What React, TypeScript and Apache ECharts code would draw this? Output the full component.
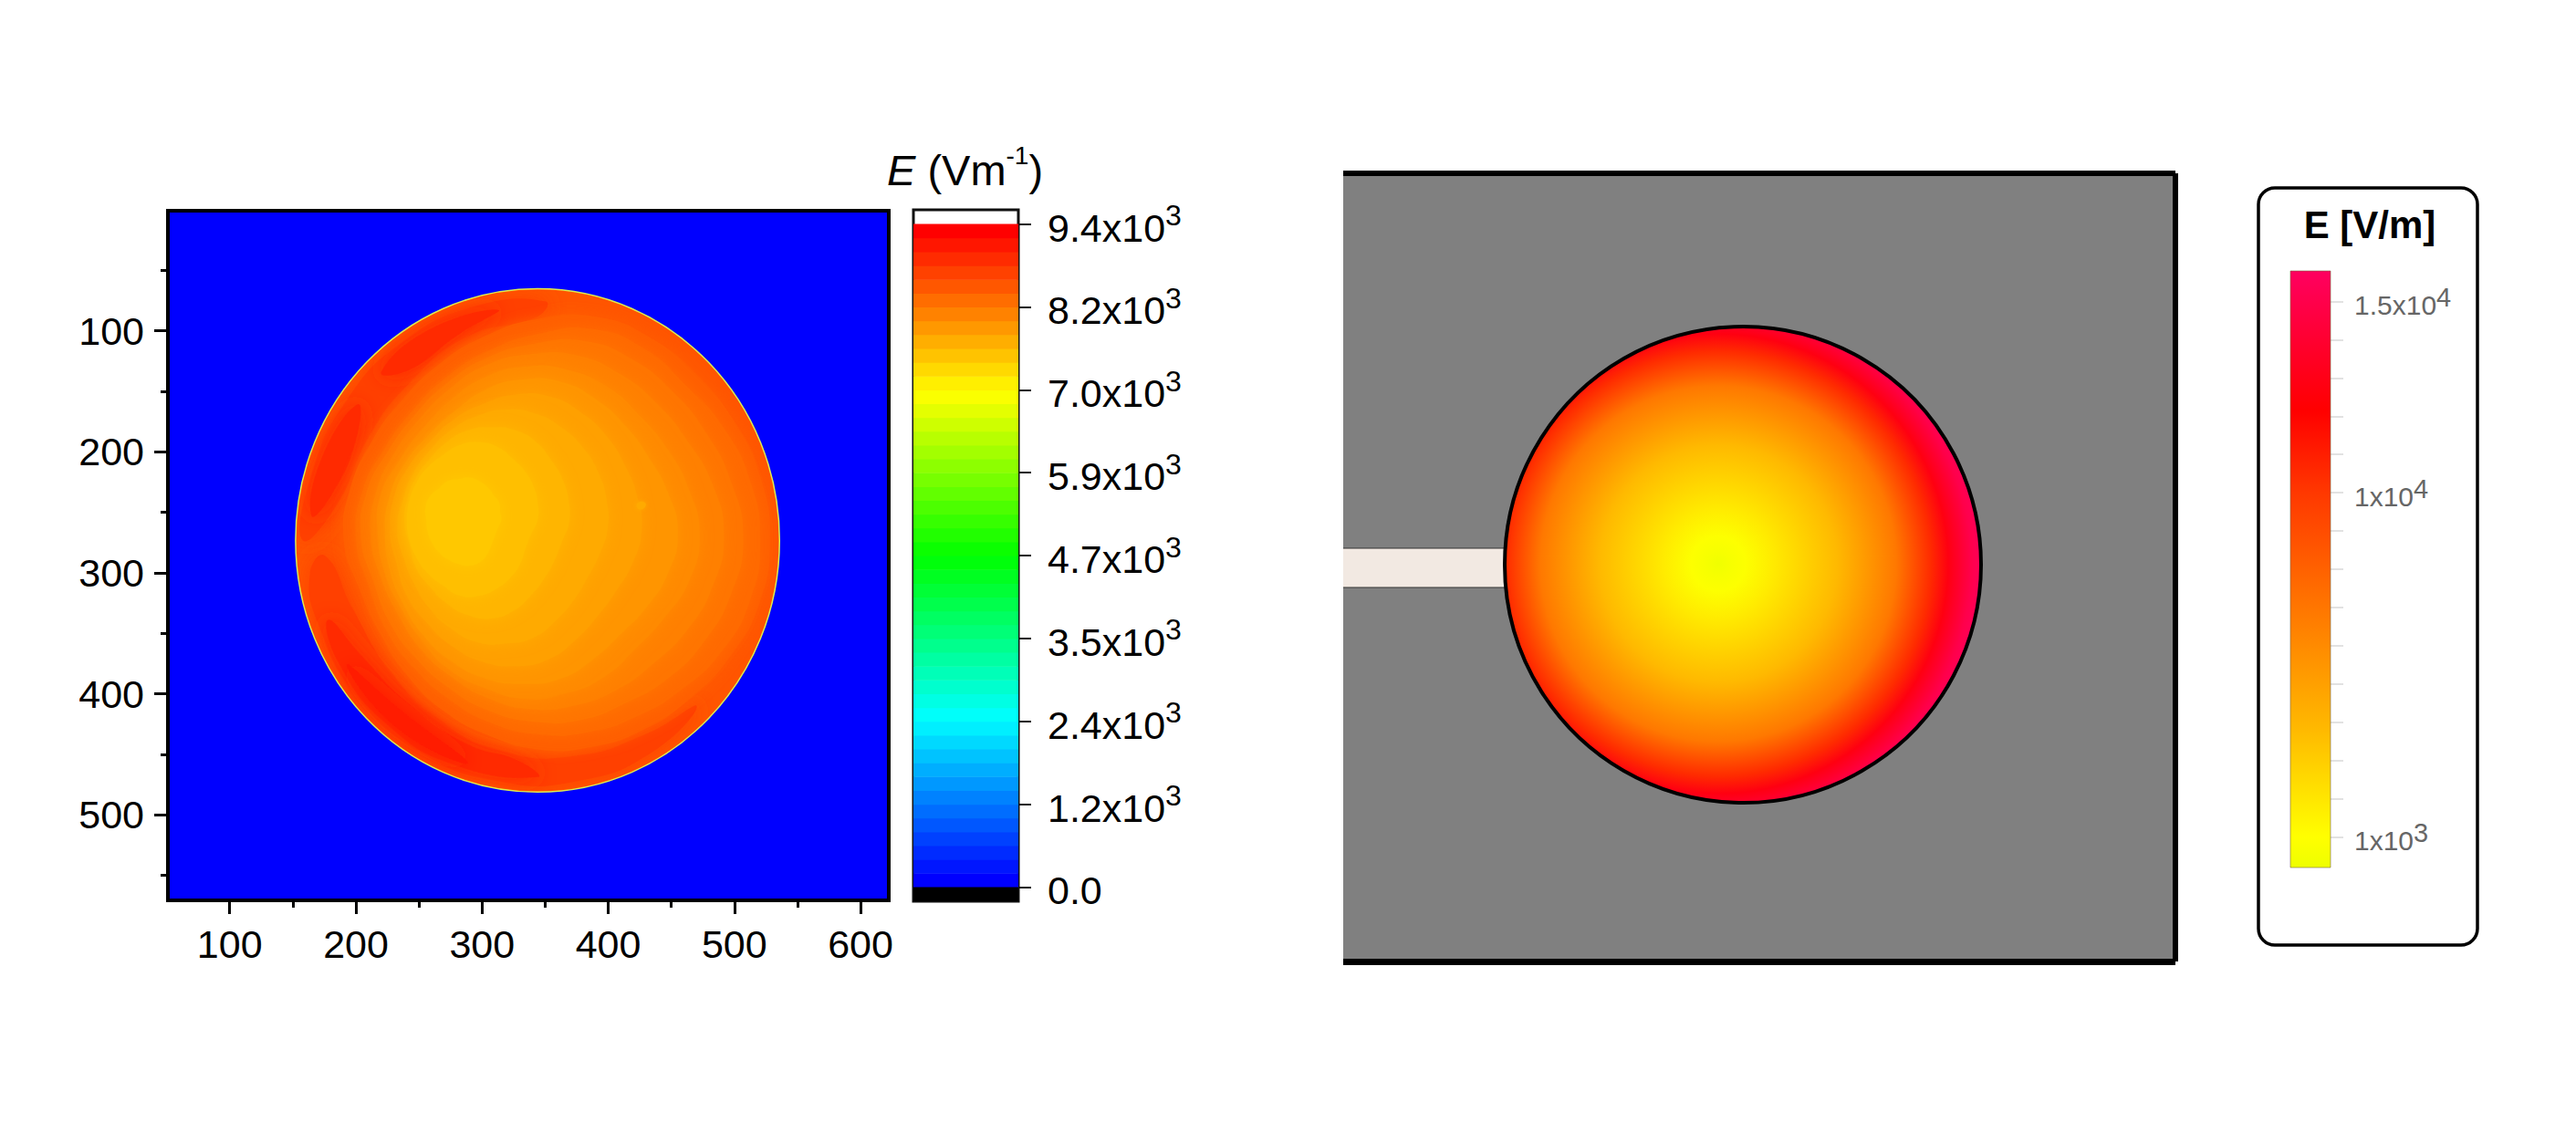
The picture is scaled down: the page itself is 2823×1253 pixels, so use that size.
import React, { useEffect, useRef } from "react";
import * as echarts from "echarts";

const FONT = "Liberation Sans";

// ---------- left panel: axes ----------
const X_MAJOR = [100, 200, 300, 400, 500, 600];
const X_MINOR = [150, 250, 350, 450, 550];
const Y_MAJOR = [100, 200, 300, 400, 500];
const Y_MINOR = [50, 150, 250, 350, 450, 550];

// measured disk in data units
const DISK = { cx: 344, cy: 273.2, rx: 191.8, ry: 208 };

// colour scale of the left bar
const BAR_VALUES = [0, 2350, 4700, 7050, 9400];
const BAR_COLORS = ["#0000ff", "#00ffff", "#00ff00", "#ffff00", "#ff0000"];
const BAR_TICKS = [0, 1175, 2350, 3525, 4700, 5875, 7050, 8225, 9400];
const BAR_MANTISSA = ["0.0", "1.2", "2.4", "3.5", "4.7", "5.9", "7.0", "8.2", "9.4"];
const BAR_LEVELS = 48;

// field of the left disk: iso-value outlines
// radius is a fraction of the disk radius, angle runs clockwise from the right,
// each outline around its own centre (fractions of the disk radius too)
const ANGLES = [0, 15, 30, 45, 60, 75, 90, 105, 120, 135, 150, 165, 180, 195, 210, 225, 240, 255, 270, 285, 300, 315, 330, 345];
const RIM_VALUE = 8620;
const R_8520 = [0.96, 0.95, 0.92, 0.89, 0.87, 0.85, 0.83, 0.8, 0.78, 0.76, 0.75, 0.76, 0.8, 0.8, 0.79, 0.79, 0.81, 0.84, 0.88, 0.92, 0.93, 0.93, 0.94, 0.955];
const R_8420 = [0.92, 0.91, 0.88, 0.84, 0.81, 0.79, 0.77, 0.75, 0.73, 0.72, 0.72, 0.72, 0.75, 0.75, 0.73, 0.73, 0.75, 0.78, 0.82, 0.87, 0.88, 0.87, 0.89, 0.91];
const R_8320 = [0.87, 0.85, 0.82, 0.79, 0.76, 0.75, 0.73, 0.71, 0.69, 0.68, 0.68, 0.68, 0.71, 0.71, 0.69, 0.69, 0.71, 0.74, 0.77, 0.81, 0.82, 0.82, 0.83, 0.85];
const R_8225 = [0.8, 0.78, 0.75, 0.72, 0.71, 0.7, 0.69, 0.67, 0.65, 0.64, 0.63, 0.64, 0.66, 0.66, 0.65, 0.65, 0.67, 0.7, 0.72, 0.74, 0.74, 0.74, 0.75, 0.78];
const R_8130 = [0.72, 0.7, 0.66, 0.64, 0.65, 0.65, 0.65, 0.63, 0.62, 0.6, 0.59, 0.6, 0.61, 0.62, 0.6, 0.6, 0.62, 0.65, 0.67, 0.68, 0.68, 0.67, 0.68, 0.7];
const R_8030 = [0.64, 0.62, 0.59, 0.57, 0.58, 0.6, 0.6, 0.6, 0.59, 0.58, 0.57, 0.57, 0.57, 0.57, 0.56, 0.55, 0.56, 0.59, 0.61, 0.62, 0.61, 0.6, 0.6, 0.62];
const R_7930 = [0.52, 0.5, 0.48, 0.48, 0.5, 0.53, 0.54, 0.54, 0.53, 0.52, 0.52, 0.51, 0.52, 0.52, 0.51, 0.5, 0.51, 0.52, 0.54, 0.55, 0.54, 0.53, 0.52, 0.52];
const R_7830 = [0.42, 0.4, 0.39, 0.4, 0.42, 0.45, 0.46, 0.47, 0.46, 0.45, 0.44, 0.44, 0.45, 0.44, 0.44, 0.44, 0.45, 0.46, 0.47, 0.47, 0.46, 0.45, 0.44, 0.43];
const R_7730 = [0.32, 0.3, 0.3, 0.31, 0.33, 0.36, 0.38, 0.38, 0.37, 0.36, 0.36, 0.35, 0.36, 0.36, 0.36, 0.36, 0.37, 0.38, 0.38, 0.38, 0.37, 0.35, 0.34, 0.33];
const R_7640 = [0.24, 0.22, 0.22, 0.24, 0.26, 0.28, 0.3, 0.31, 0.3, 0.3, 0.3, 0.3, 0.3, 0.3, 0.3, 0.3, 0.3, 0.31, 0.31, 0.3, 0.28, 0.27, 0.26, 0.25];
const R_7560 = [0.13, 0.12, 0.12, 0.13, 0.15, 0.17, 0.18, 0.18, 0.18, 0.18, 0.18, 0.18, 0.18, 0.19, 0.19, 0.18, 0.18, 0.17, 0.17, 0.16, 0.15, 0.14, 0.14, 0.13];
// hot crescents: [angle, radius] outlines around the disk centre
const HOT_LOWER_8810 = [[45, 0.93], [60, 0.965], [80, 0.97], [100, 0.97], [120, 0.97], [140, 0.97], [160, 0.965], [172, 0.95], [176, 0.88], [160, 0.81], [140, 0.8], [120, 0.82], [100, 0.85], [80, 0.87], [60, 0.89]];
const HOT_UPPER_8810 = [[180, 0.97], [195, 0.97], [215, 0.965], [235, 0.965], [255, 0.965], [272, 0.95], [270, 0.89], [250, 0.86], [230, 0.82], [210, 0.81], [190, 0.84]];
const HOT_LOWER_9000 = [[90, 0.94], [110, 0.955], [130, 0.96], [150, 0.955], [160, 0.92], [148, 0.86], [130, 0.84], [110, 0.86], [95, 0.88]];
const HOT_UPPER_9000A = [[186, 0.94], [200, 0.95], [216, 0.92], [208, 0.85], [192, 0.87]];
const HOT_UPPER_9000B = [[226, 0.93], [242, 0.95], [260, 0.93], [248, 0.88], [232, 0.86]];
const HOT_LOWER_9150 = [[108, 0.93], [128, 0.945], [148, 0.93], [130, 0.88]];
const SPECK_7830 = [[340, 0.45], [342, 0.47], [344, 0.45], [342, 0.43]];

const toPairs = (radii: number[]) => radii.map((r, i) => [ANGLES[i], r]);
const OUTLINES: { value: number; pts: number[][]; c?: number[]; blur: number }[] = [
  { value: 8810, pts: HOT_LOWER_8810, blur: 22 },
  { value: 8810, pts: HOT_UPPER_8810, blur: 22 },
  { value: 9000, pts: HOT_LOWER_9000, blur: 22 },
  { value: 9000, pts: HOT_UPPER_9000A, blur: 22 },
  { value: 9000, pts: HOT_UPPER_9000B, blur: 22 },
  { value: 9150, pts: HOT_LOWER_9150, blur: 22 },
  { value: 8520, pts: toPairs(R_8520), blur: 14 },
  { value: 8420, pts: toPairs(R_8420), blur: 14 },
  { value: 8320, pts: toPairs(R_8320), c: [-0.02, -0.01], blur: 14 },
  { value: 8225, pts: toPairs(R_8225), c: [-0.03, -0.02], blur: 14 },
  { value: 8130, pts: toPairs(R_8130), c: [-0.05, -0.02], blur: 14 },
  { value: 8030, pts: toPairs(R_8030), c: [-0.06, -0.03], blur: 14 },
  { value: 7930, pts: toPairs(R_7930), c: [-0.09, -0.04], blur: 14 },
  { value: 7830, pts: toPairs(R_7830), c: [-0.13, -0.05], blur: 14 },
  { value: 7730, pts: toPairs(R_7730), c: [-0.19, -0.07], blur: 14 },
  { value: 7640, pts: toPairs(R_7640), c: [-0.24, -0.08], blur: 14 },
  { value: 7560, pts: toPairs(R_7560), c: [-0.28, -0.08], blur: 14 },
  { value: 7830, pts: SPECK_7830, blur: 4 },
];

// ---------- right panel ----------
const RIGHT_SCALE_VALUES = [196, 1000, 3850, 6500, 10000, 12150, 15800];
const RIGHT_SCALE_COLORS = ["#eeff00", "#ffff00", "#ffb800", "#ff8000", "#ff3800", "#ff0000", "#ff0060"];
const RIGHT_TICKS = [1000, 2000, 3000, 4000, 5000, 6000, 7000, 8000, 9000, 10000, 11000, 12000, 13000, 14000, 15000];
const RIGHT_LABELS: Record<number, string[]> = { 1000: ["1x10", "3"], 10000: ["1x10", "4"], 15000: ["1.5x10", "4"] };
// field along the radius from the hot-spot centre
const PROFILE_R = [0, 14, 30, 60, 130, 195, 233, 252, 277, 290];
const PROFILE_E = [300, 600, 900, 1800, 3800, 6900, 10500, 12800, 15000, 15600];
const PROFILE_RMAX = 290;
const SPOT = { x: 411, y: 428 };
const DISK_R = { cx: 438, cy: 429, r: 261 };
const STRIP = { x0: 0, x1: 177, y0: 411, y1: 454 };

function hex(c: string) {
  return [1, 3, 5].map((i) => parseInt(c.slice(i, i + 2), 16));
}
function scaleColor(v: number, vals: number[], cols: string[]) {
  if (v <= vals[0]) return cols[0];
  for (let i = 1; i < vals.length; i++) {
    if (v <= vals[i]) {
      const t = (v - vals[i - 1]) / (vals[i] - vals[i - 1]);
      const a = hex(cols[i - 1]);
      const b = hex(cols[i]);
      return `rgb(${a.map((x, k) => Math.round(x + (b[k] - x) * t)).join(",")})`;
    }
  }
  return cols[cols.length - 1];
}
const leftColor = (v: number) => scaleColor(v, BAR_VALUES, BAR_COLORS);
const rightColor = (v: number) => scaleColor(v, RIGHT_SCALE_VALUES, RIGHT_SCALE_COLORS);

const LABEL_SIZE = 43;
const supRich = (main: number, sup: number, color: string) => ({
  a: { fontFamily: FONT, fontSize: main, color, lineHeight: main + 8, verticalAlign: "bottom" },
  b: { fontFamily: FONT, fontSize: sup, color, lineHeight: main + 8, verticalAlign: "top" },
});

function buildOption(): any {
  const bareAxis = (extra: any) => ({
    axisLine: { show: false, onZero: false },
    axisTick: { show: false },
    axisLabel: { show: false },
    splitLine: { show: false },
    ...extra,
  });
  const majorTick = (vals: number[], len: number, color = "#000", width = 3) => ({
    show: true,
    customValues: vals,
    length: len,
    lineStyle: { color, width },
  });
  const plainLabel = (vals: number[]) => ({
    show: true,
    customValues: vals,
    margin: 26,
    fontFamily: FONT,
    fontSize: LABEL_SIZE,
    color: "#000",
  });
  const frame = (width: number) => ({ show: true, onZero: false, lineStyle: { color: "#000", width, cap: "butt" } });
  const levelStep = 9400 / BAR_LEVELS;
  const levelData = Array.from({ length: BAR_LEVELS }, (_, i) => [0, i * levelStep, i]);

  return {
    animation: false,
    backgroundColor: "#fff",
    grid: [
      { left: 184, top: 231, width: 790, height: 756, show: true, backgroundColor: "#0000ff", borderColor: "#000", borderWidth: 4 },
      { left: 1001, top: 230, width: 115, height: 758, show: true, backgroundColor: "#fff", borderColor: "#111", borderWidth: 3 },
      { left: 1472, top: 190, width: 912, height: 864, show: true, backgroundColor: "#808080", borderWidth: 0 },
      { left: 2510, top: 297, width: 44, height: 654, show: false },
    ],
    xAxis: [
      bareAxis({ type: "value", gridIndex: 0, position: "bottom", min: 51, max: 622.4, axisTick: majorTick(X_MAJOR, 15), axisLabel: plainLabel(X_MAJOR) }),
      bareAxis({ type: "value", gridIndex: 0, position: "bottom", min: 51, max: 622.4, axisTick: majorTick(X_MINOR, 8) }),
      bareAxis({ type: "value", gridIndex: 1, position: "bottom", min: 0, max: 1 }),
      bareAxis({ type: "value", gridIndex: 2, position: "bottom", min: 0, max: 912, axisLine: frame(7) }),
      bareAxis({ type: "value", gridIndex: 2, position: "top", min: 0, max: 912, axisLine: frame(6) }),
      bareAxis({ type: "value", gridIndex: 3, position: "bottom", min: 0, max: 1 }),
    ],
    yAxis: [
      bareAxis({ type: "value", gridIndex: 0, position: "left", inverse: true, min: 0.7, max: 570.7, axisTick: majorTick(Y_MAJOR, 15), axisLabel: plainLabel(Y_MAJOR) }),
      bareAxis({ type: "value", gridIndex: 0, position: "left", inverse: true, min: 0.7, max: 570.7, axisTick: majorTick(Y_MINOR, 8) }),
      bareAxis({
        type: "value", gridIndex: 1, position: "right", min: -202, max: 9602,
        axisTick: majorTick(BAR_TICKS, 14, "#111", 2),
        axisLabel: {
          show: true, customValues: BAR_TICKS, margin: 32,
          formatter: (v: number) => {
            const i = BAR_TICKS.indexOf(v);
            return v === 0 ? `{a|${BAR_MANTISSA[i]}}` : `{a|${BAR_MANTISSA[i]}x10}{b|3}`;
          },
          rich: supRich(LABEL_SIZE, 32, "#000"),
        },
      }),
      bareAxis({ type: "value", gridIndex: 2, position: "right", inverse: true, min: 0, max: 864, axisLine: frame(6) }),
      bareAxis({
        type: "value", gridIndex: 3, position: "right", min: 196, max: 15800,
        axisTick: majorTick(RIGHT_TICKS, 14, "#d8d8d8", 1.5),
        axisLabel: {
          show: true, customValues: [1000, 10000, 15000], margin: 26,
          formatter: (v: number) => `{a|${RIGHT_LABELS[v][0]}}{b|${RIGHT_LABELS[v][1]}}`,
          rich: supRich(30, 29, "#666"),
        },
      }),
    ],
    series: [
      // left disk base
      {
        type: "custom", xAxisIndex: 0, yAxisIndex: 0, silent: true, clip: false,
        data: [[DISK.cx, DISK.cy, RIM_VALUE]],
        encode: { x: 0, y: 1 },
        renderItem: (_: any, api: any) => {
          const c = api.coord([DISK.cx, DISK.cy]);
          const s = api.size([DISK.rx, DISK.ry]);
          return {
            type: "ellipse",
            shape: { cx: c[0], cy: c[1], rx: s[0], ry: s[1] },
            style: { fill: leftColor(api.value(2)), stroke: "#dcec50", lineWidth: 1.5 },
          };
        },
      },
      // left disk iso-value outlines
      {
        type: "custom", xAxisIndex: 0, yAxisIndex: 0, silent: true, clip: false,
        data: OUTLINES.map((o, i) => [DISK.cx, DISK.cy, o.value, i]),
        encode: { x: 0, y: 1 },
        renderItem: (_: any, api: any) => {
          const o = OUTLINES[api.value(3)];
          const c0 = o.c || [0, 0];
          const points = o.pts.map(([a, r]) => {
            const t = (a * Math.PI) / 180;
            return api.coord([DISK.cx + DISK.rx * (c0[0] + r * Math.cos(t)), DISK.cy + DISK.ry * (c0[1] + r * Math.sin(t))]);
          });
          const col = leftColor(o.value);
          const c = api.coord([DISK.cx, DISK.cy]);
          const s = api.size([DISK.rx, DISK.ry]);
          return {
            type: "group",
            children: [
              {
                type: "group",
                clipPath: { type: "ellipse", shape: { cx: c[0], cy: c[1], rx: s[0] - 1, ry: s[1] - 1 } },
                children: [
                  { type: "polygon", shape: { points, smooth: 0.5 }, style: { fill: col, shadowColor: col, shadowBlur: o.blur } },
                ],
              },
            ],
          };
        },
      },
      // left colour bar levels
      {
        type: "custom", xAxisIndex: 2, yAxisIndex: 2, silent: true,
        data: levelData,
        encode: { x: 0, y: 1 },
        renderItem: (_: any, api: any) => {
          const p0 = api.coord([0, api.value(1)]);
          const p1 = api.coord([1, api.value(1) + levelStep]);
          return {
            type: "rect",
            shape: { x: p0[0], y: p1[1], width: p1[0] - p0[0], height: p0[1] - p1[1] + 0.6 },
            style: { fill: leftColor((api.value(2) / (BAR_LEVELS - 1)) * 9400) },
          };
        },
      },
      // black under-range cap
      {
        type: "custom", xAxisIndex: 2, yAxisIndex: 2, silent: true,
        data: [[0, -202]],
        encode: { x: 0, y: 1 },
        renderItem: (_: any, api: any) => {
          const p0 = api.coord([0, -202]);
          const p1 = api.coord([1, 0]);
          return { type: "rect", shape: { x: p0[0], y: p1[1], width: p1[0] - p0[0], height: p0[1] - p1[1] }, style: { fill: "#000" } };
        },
      },
      // right: strip
      {
        type: "custom", xAxisIndex: 3, yAxisIndex: 3, silent: true,
        data: [[STRIP.x0, STRIP.y0]],
        encode: { x: 0, y: 1 },
        renderItem: (_: any, api: any) => {
          const p0 = api.coord([STRIP.x0, STRIP.y0]);
          const p1 = api.coord([STRIP.x1, STRIP.y1]);
          const line = (y: number) => ({
            type: "line",
            shape: { x1: p0[0], y1: y, x2: p1[0], y2: y },
            style: { stroke: "#333", lineWidth: 1 },
          });
          return {
            type: "group",
            children: [
              { type: "rect", shape: { x: p0[0], y: p0[1], width: p1[0] - p0[0], height: p1[1] - p0[1] }, style: { fill: "#f2e9e2" } },
              line(p0[1]),
              line(p1[1]),
            ],
          };
        },
      },
      // right: disk
      {
        type: "custom", xAxisIndex: 3, yAxisIndex: 3, silent: true,
        data: [[DISK_R.cx, DISK_R.cy]],
        encode: { x: 0, y: 1 },
        renderItem: (_: any, api: any) => {
          const c = api.coord([DISK_R.cx, DISK_R.cy]);
          const s = api.size([DISK_R.r, DISK_R.r]);
          const d = 2 * DISK_R.r;
          const gx = (SPOT.x - (DISK_R.cx - DISK_R.r)) / d;
          const gy = (SPOT.y - (DISK_R.cy - DISK_R.r)) / d;
          const stops = PROFILE_R.map((r, i) => ({ offset: r / PROFILE_RMAX, color: rightColor(PROFILE_E[i]) }));
          return {
            type: "circle",
            shape: { cx: c[0], cy: c[1], r: s[0] },
            style: {
              fill: new echarts.graphic.RadialGradient(gx, gy, PROFILE_RMAX / d, stops, false),
              stroke: "#000", lineWidth: 4,
            },
          };
        },
      },
      // right colour bar
      {
        type: "custom", xAxisIndex: 5, yAxisIndex: 4, silent: true,
        data: [[0, 196]],
        encode: { x: 0, y: 1 },
        renderItem: (_: any, api: any) => {
          const p0 = api.coord([0, 196]);
          const p1 = api.coord([1, 15800]);
          const span = 15800 - 196;
          const stops = RIGHT_SCALE_VALUES.map((v, i) => ({ offset: (15800 - v) / span, color: RIGHT_SCALE_COLORS[i] })).reverse();
          return {
            type: "rect",
            shape: { x: p0[0], y: p1[1], width: p1[0] - p0[0], height: p0[1] - p1[1] },
            style: { fill: new echarts.graphic.LinearGradient(0, 0, 0, 1, stops), stroke: "rgba(120,100,60,0.6)", lineWidth: 1 },
          };
        },
      },
    ],
    graphic: [
      {
        type: "rect", z: -1,
        shape: { x: 2475, y: 206, width: 240, height: 830, r: 18 },
        style: { fill: "#fff", stroke: "#000", lineWidth: 3.5 },
      },
      {
        type: "text", x: 2597, y: 246,
        style: { text: "E [V/m]", fontFamily: FONT, fontWeight: "bold", fontSize: 42, fill: "#000", align: "center", verticalAlign: "middle" },
      },
      {
        type: "text", x: 972, y: 183,
        style: {
          text: "{i|E}{n| (Vm}{s|-1}{n|)}",
          align: "left", verticalAlign: "middle",
          rich: {
            i: { fontFamily: FONT, fontStyle: "italic", fontSize: 47, fill: "#000", lineHeight: 54, verticalAlign: "bottom" },
            n: { fontFamily: FONT, fontSize: 47, fill: "#000", lineHeight: 54, verticalAlign: "bottom" },
            s: { fontFamily: FONT, fontSize: 28, fill: "#000", lineHeight: 54, verticalAlign: "top" },
          },
        },
      },
    ],
  };
}

export default function App() {
  const ref = useRef<HTMLDivElement>(null);
  useEffect(() => {
    document.body.style.margin = "0";
    const chart = echarts.init(ref.current!, undefined, { renderer: "svg" });
    chart.setOption(buildOption());
    return () => chart.dispose();
  }, []);
  return <div ref={ref} style={{ width: 2823, height: 1253 }} />;
}
